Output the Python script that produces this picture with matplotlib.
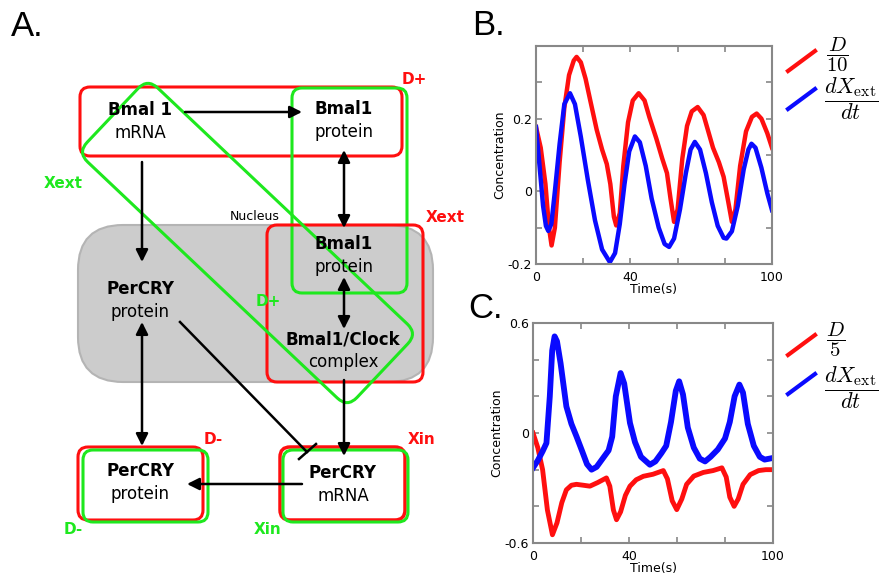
import numpy as np
import matplotlib
matplotlib.use("Agg")
import matplotlib.pyplot as plt
from matplotlib.patches import FancyBboxPatch
from matplotlib.transforms import Affine2D

plt.rcParams["mathtext.fontset"] = "cm"

# ----------------------------------------------------------------------
# Data
# ----------------------------------------------------------------------
# Panel B: D/10 (red) and dXext/dt (blue)
t_b_red = [0, 2, 4, 5.5, 6.6, 8, 10, 12, 14, 16, 17.2, 19, 21, 23, 25.7, 28,
           30, 31.5, 33, 34, 35.5, 37, 39, 41, 43.5, 46, 48, 51, 53.5, 55.5,
           57, 58.5, 60, 62, 64, 66, 68.5, 71, 73, 75, 77.5, 79.5, 81.5, 83,
           84.5, 86.5, 89, 91.5, 93.5, 95.5, 98, 100]
d_b_red = [0.177, 0.12, 0.02, -0.1, -0.149, -0.10, 0.08, 0.23, 0.32, 0.36,
           0.37, 0.355, 0.31, 0.25, 0.17, 0.115, 0.075, 0.02, -0.07, -0.094,
           -0.06, 0.07, 0.19, 0.25, 0.27, 0.25, 0.205, 0.145, 0.09, 0.05,
           -0.02, -0.084, -0.05, 0.09, 0.18, 0.22, 0.232, 0.21, 0.165, 0.12,
           0.08, 0.04, -0.03, -0.084, -0.05, 0.07, 0.165, 0.205, 0.214, 0.2,
           0.16, 0.12]

t_b_blue = [0, 1.5, 3, 4.2, 5.2, 6.5, 8, 10, 12, 14.4, 16.5, 19, 22, 25, 28,
            31.3, 33.5, 35.5, 37.5, 39.5, 41.9, 44, 46.5, 49, 52, 54.5, 56.4,
            58.5, 61, 63.5, 65.5, 67.3, 69.5, 72, 74.5, 77, 79.5, 80.7, 83,
            85.5, 88, 90, 91.3, 93, 95.5, 98, 100]
d_b_blue = [0.177, 0.07, -0.04, -0.095, -0.109, -0.09, 0.0, 0.13, 0.24, 0.27,
            0.24, 0.15, 0.03, -0.08, -0.16, -0.195, -0.17, -0.09, 0.02, 0.11,
            0.151, 0.135, 0.07, -0.02, -0.1, -0.145, -0.153, -0.13, -0.05,
            0.05, 0.115, 0.136, 0.115, 0.05, -0.03, -0.095, -0.128, -0.13,
            -0.11, -0.04, 0.06, 0.115, 0.131, 0.12, 0.065, -0.005, -0.052]

# Panel C: D/5 (red) and dXext/dt (blue)
t_c_red = [0, 2, 4, 6, 8.1, 10, 12, 13.9, 16, 18.1, 21, 23.7, 27, 30.6, 32,
           33.5, 34.8, 36.5, 38.5, 40.4, 43, 46, 50, 54.3, 56, 58, 59.9, 62,
           64, 67, 71, 75, 78.7, 80.5, 82, 83.8, 85.5, 87.5, 90.5, 94, 97, 100]
d_c_red = [0.0, -0.08, -0.2, -0.42, -0.555, -0.49, -0.38, -0.31, -0.285,
           -0.28, -0.285, -0.29, -0.27, -0.245, -0.29, -0.42, -0.473, -0.43,
           -0.34, -0.29, -0.255, -0.236, -0.225, -0.205, -0.25, -0.37,
           -0.418, -0.36, -0.28, -0.235, -0.215, -0.205, -0.19, -0.24, -0.35,
           -0.4, -0.36, -0.28, -0.227, -0.205, -0.2, -0.2]

t_c_blue = [0, 2, 4, 5.6, 7, 8, 9, 10, 11.5, 13.9, 16, 18.1, 20.5, 22.5,
            24.4, 26.5, 29, 31.5, 33, 34.5, 36.5, 38, 40.4, 42.5, 45, 48.7,
            51, 53.5, 55.5, 57.5, 59.5, 60.9, 62.5, 64.5, 67, 69.5, 71.7, 74,
            77, 80, 82, 84, 86, 87.5, 89.5, 92, 94.5, 96.5, 98.5, 100]
d_c_blue = [-0.19, -0.15, -0.1, -0.055, 0.2, 0.45, 0.527, 0.5, 0.38, 0.145,
            0.05, -0.018, -0.1, -0.17, -0.2, -0.185, -0.14, -0.095, -0.02,
            0.2, 0.327, 0.27, 0.055, -0.05, -0.13, -0.173, -0.155, -0.11,
            -0.07, 0.06, 0.23, 0.282, 0.21, 0.03, -0.08, -0.14, -0.155, -0.13,
            -0.09, -0.03, 0.06, 0.2, 0.264, 0.22, 0.05, -0.07, -0.13, -0.145,
            -0.14, -0.136]

x_ticks = [0, 20, 40, 60, 80, 100]
x_ticklabels = ["0", "", "40", "", "", "100"]
b_yticks = [-0.2, -0.1, 0, 0.1, 0.2, 0.3]
b_yticklabels = ["-0.2", "", "0", "", "0.2", ""]
c_yticks = [-0.6, -0.4, -0.2, 0, 0.2, 0.4, 0.6]
c_yticklabels = ["-0.6", "", "", "0", "", "", "0.6"]

RED = "#ff0f0f"
GREEN = "#1ee81e"
BLUE = "#0a0aff"

fig = plt.figure(figsize=(8.93, 5.79), dpi=100)

# ----------------------------------------------------------------------
# Panel A: the diagram, drawn in a pixel-sized overlay axes
# ----------------------------------------------------------------------
ax0 = fig.add_axes([0, 0, 1, 1])
ax0.set_xlim(0, 893)
ax0.set_ylim(579, 0)
ax0.axis("off")


def box(x0, y0, x1, y1, color, r=10, lw=2.2, fc="none", z=2):
    p = FancyBboxPatch((x0, y0), x1 - x0, y1 - y0,
                       boxstyle=f"round,pad=0,rounding_size={r}",
                       fc=fc, ec=color, lw=lw, zorder=z)
    ax0.add_patch(p)


def arrow(x0, y0, x1, y1, style="-|>"):
    ax0.annotate("", xy=(x1, y1), xytext=(x0, y0),
                 arrowprops=dict(arrowstyle=style, color="k", lw=1.8,
                                 mutation_scale=18, shrinkA=0, shrinkB=0),
                 zorder=4)


def label(x, y, top, bottom):
    ax0.text(x, y, top, ha="center", va="center", fontsize=12,
             fontweight="bold", zorder=5)
    ax0.text(x, y + 23, bottom, ha="center", va="center", fontsize=12,
             zorder=5)


# nucleus
box(78, 225, 433, 382, "#b4b4b4", r=45, lw=1.5, fc="#cccccc", z=1)
ax0.text(255, 216, "Nucleus", ha="center", va="center", fontsize=9)

# red and green groupings
box(80, 87, 402, 156, RED)
box(292, 88, 407, 293, GREEN)
box(267, 225, 423, 382, RED)
box(78, 447, 203, 520, RED)
box(83, 450, 208, 522, GREEN)
box(280, 447, 405, 520, RED, lw=2.5)
box(283, 450, 408, 522, GREEN)

# rotated green rounded rectangle (Xext / D+)
L, W = 371.4, 101.9
diag = FancyBboxPatch((-L / 2, -W / 2), L, W,
                      boxstyle="round,pad=0,rounding_size=14",
                      fc="none", ec=GREEN, lw=2.2, zorder=2)
diag.set_transform(Affine2D().rotate_deg(43.4).translate(247.5, 243)
                   + ax0.transData)
ax0.add_patch(diag)

# node labels
label(140, 110, "Bmal 1", "mRNA")
label(344, 109, "Bmal1", "protein")
label(344, 244, "Bmal1", "protein")
label(140, 289, "PerCRY", "protein")
label(343, 339, "Bmal1/Clock", "complex")
label(140, 471, "PerCRY", "protein")
label(343, 473, "PerCRY", "mRNA")

# arrows
arrow(185, 112, 302, 112)
arrow(142, 162, 142, 262)
arrow(344, 150, 344, 228, "<|-|>")
arrow(344, 277, 344, 329, "<|-|>")
arrow(344, 380, 344, 456)
arrow(142, 322, 142, 446, "<|-|>")
arrow(302, 484, 187, 484)
ax0.plot([180, 307], [322, 452], color="k", lw=1.8, zorder=4)
ax0.plot([299, 316], [459, 444], color="k", lw=1.8, zorder=4)

# group tags
tag = dict(fontsize=11, fontweight="bold", ha="center", va="center")
ax0.text(414, 79, "D+", color=RED, **tag)
ax0.text(445, 217, "Xext", color=RED, **tag)
ax0.text(63, 184, "Xext", color=GREEN, **tag)
ax0.text(268, 301, "D+", color=GREEN, **tag)
ax0.text(213, 440, "D-", color=RED, **tag)
ax0.text(73, 530, "D-", color=GREEN, **tag)
ax0.text(422, 440, "Xin", color=RED, **tag)
ax0.text(268, 530, "Xin", color=GREEN, **tag)

# panel letters
for x, y, s in [(11, 36, "A."), (472, 35, "B."), (468, 318, "C.")]:
    ax0.text(x, y, s, fontsize=25, family="Liberation Sans", va="baseline")


# ----------------------------------------------------------------------
# Panels B and C: time series
# ----------------------------------------------------------------------
def style_axes(ax, yticks, yticklabels, ylim):
    ax.set_xlim(0, 100)
    ax.set_ylim(*ylim)
    ax.set_xticks(x_ticks)
    ax.set_xticklabels(x_ticklabels)
    ax.set_yticks(yticks)
    ax.set_yticklabels(yticklabels)
    ax.tick_params(direction="in", top=True, right=True, length=4,
                   width=1.2, color="#888888", labelsize=9, pad=3)
    ax.tick_params(axis="x", pad=5)
    for s in ax.spines.values():
        s.set_color("#888888")
        s.set_linewidth(1.5)
    ax.set_ylabel("Concentration", fontsize=9, labelpad=1)
    ax.set_xlabel("Time(s)", fontsize=9, labelpad=-1)


axB = fig.add_axes([536 / 893, 1 - 264 / 579, 236 / 893, 218 / 579])
axB.plot(t_b_red, d_b_red, color=RED, lw=3.2)
axB.plot(t_b_blue, d_b_blue, color=BLUE, lw=3.2)
style_axes(axB, b_yticks, b_yticklabels, (-0.2, 0.4))

axC = fig.add_axes([533 / 893, 1 - 543 / 579, 240 / 893, 220 / 579])
axC.plot(t_c_red, d_c_red, color=RED, lw=3.5)
axC.plot(t_c_blue, d_c_blue, color=BLUE, lw=4.2)
style_axes(axC, c_yticks, c_yticklabels, (-0.6, 0.6))

# hand-drawn style legends (diagonal strokes)
for (y_red, y_blue, denom, yd, yx) in [(71, 109, "10", 55, 99),
                                        (355, 394, "5", 340, 388)]:
    ax0.plot([788, 815], [y_red, y_red - 20], color=RED, lw=3)
    ax0.plot([788, 815], [y_blue, y_blue - 20], color=BLUE, lw=3)
    ax0.text(826, yd, r"$\dfrac{D}{%s}$" % denom, fontsize=15,
             va="center", ha="left")
    ax0.text(824, yx, r"$\dfrac{dX_{\rm ext}}{dt}$", fontsize=16,
             va="center", ha="left")

fig.savefig("out.png", dpi=100)
